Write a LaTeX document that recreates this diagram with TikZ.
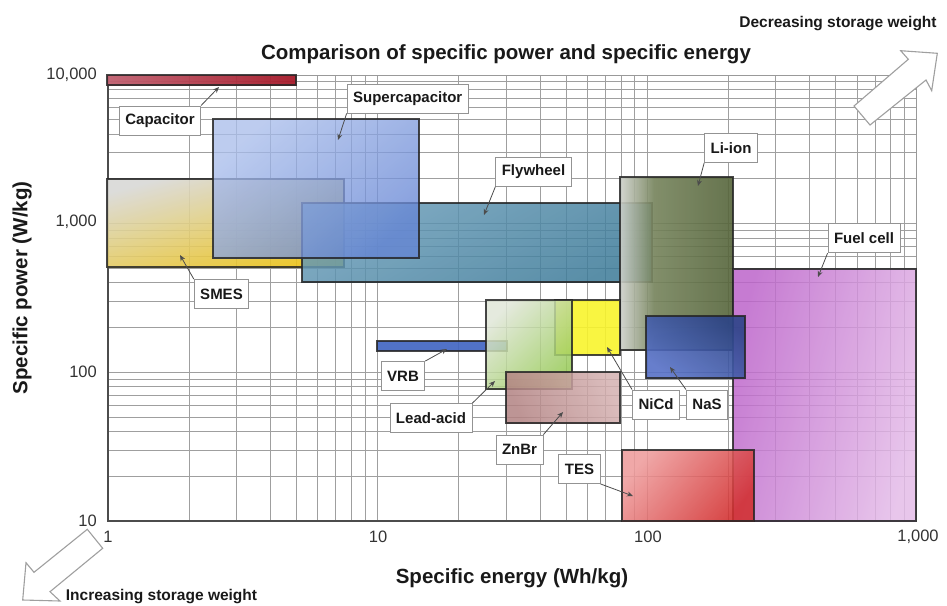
\documentclass[tikz,border=0pt]{standalone}
\usepackage{fontspec}
\setmainfont{Liberation Sans}
\usetikzlibrary{arrows.meta}
\definecolor{capL}{HTML}{C06070}
\definecolor{capR}{HTML}{A61828}
\definecolor{supL}{HTML}{AABEEB}
\definecolor{supR}{HTML}{6585D4}
\definecolor{smesL}{HTML}{D8D8D6}
\definecolor{smesM}{HTML}{EED868}
\definecolor{smesR}{HTML}{EBC218}
\definecolor{flyL}{HTML}{6A9CB8}
\definecolor{flyR}{HTML}{3C7A98}
\definecolor{liL}{HTML}{CDD0CA}
\definecolor{liM}{HTML}{74825A}
\definecolor{liR}{HTML}{55643A}
\definecolor{fuelL}{HTML}{BC64CA}
\definecolor{fuelR}{HTML}{E4BCE8}
\definecolor{tesL}{HTML}{EE9C9C}
\definecolor{tesR}{HTML}{D22E2E}
\definecolor{vrbC}{HTML}{4266C2}
\definecolor{nicdC}{HTML}{F8F42C}
\definecolor{leadL}{HTML}{E0E6D8}
\definecolor{leadR}{HTML}{98CA58}
\definecolor{znL}{HTML}{B28282}
\definecolor{znR}{HTML}{D4B0B0}
\definecolor{nasL}{HTML}{5670C6}
\definecolor{nasR}{HTML}{2C4488}
\pgfdeclarehorizontalshading{lishade}{100bp}{color(0bp)=(liL); color(25bp)=(liL); color(40bp)=(liM); color(75bp)=(liR); color(100bp)=(liR)}
\begin{document}
\begin{tikzpicture}[x=1pt,y=-1pt,
  gridline/.style={draw=gray!75, line width=0.8pt},
  box/.style={draw=black!85, line width=1.1pt, fill opacity=0.85, draw opacity=0.85},
  lab/.style={draw=gray!85, line width=0.9pt, fill=white, text=black!90,
    font=\fontsize{15}{18}\selectfont\bfseries, inner xsep=6pt, inner ysep=0pt, minimum height=29pt},
  pointer/.style={draw=black!70, line width=0.8pt, -{Stealth[length=6pt,width=5pt]}},
  tick/.style={font=\fontsize{16.5}{19}\selectfont, text=black!80, inner sep=0pt},
  axtitle/.style={font=\fontsize{20.5}{24}\selectfont\bfseries, text=black!90, inner sep=0pt},
  note/.style={font=\fontsize{15.5}{18}\selectfont\bfseries, text=black!90, inner sep=0pt},
  bigarrow/.style={draw=gray!75, line width=1.1pt, fill=white, line join=miter},
]
\useasboundingbox (0,0) rectangle (947,605);
% grid
\foreach \d in {0,1,2}{\foreach \m in {1,...,9}{
  \pgfmathsetmacro{\xx}{108+269.6*(\d+log10(\m))}
  \draw[gridline] (\xx,75) -- (\xx,521);
  \pgfmathsetmacro{\yy}{521-148.7*(\d+log10(\m))}
  \draw[gridline] (108,\yy) -- (916,\yy);
}}
\draw[gray!80, line width=1pt] (108,75) rectangle (916,521);
\draw[black!70, line width=1.3pt] (108,75) -- (108,521) -- (916,521);

% technology regions
\path[box, fill opacity=0.95, left color=capL, right color=capR] (107,75) rectangle (296,85);
\path[box, fill opacity=0.9, top color=smesL, middle color=smesM, bottom color=smesR, shading angle=15] (107,179) rectangle (344,267);
\path[box, top color=flyL, bottom color=flyR, shading angle=30] (302,203) rectangle (652,282);
\path[box, fill opacity=0.78, top color=supL, bottom color=supR, shading angle=40] (213,119) rectangle (419,258);
\path[box, fill opacity=0.9, shade, shading=lishade] (620,177) rectangle (733,350);
\path[box, left color=fuelL, right color=fuelR, shading angle=75] (733,269) rectangle (916,521);
\path[box, fill opacity=0.88, top color=tesL, bottom color=tesR, shading angle=50] (622,450) rectangle (754,521);
\path[box, fill opacity=0.92, fill=vrbC] (377,341) rectangle (507,351);
\path[box, fill opacity=0.9, fill=nicdC] (555,300) rectangle (620,355);
\path[box, top color=leadL, bottom color=leadR, shading angle=45] (486,300) rectangle (572,389);
\path[box, left color=znL, right color=znR, shading angle=110] (506,372) rectangle (620,423);
\path[box, fill opacity=0.9, top color=nasR, bottom color=nasL, shading angle=-35] (646,316) rectangle (745,378);

% labels
\node[lab] (cap)  at (160,120.5) {Capacitor};
\node[lab] (sup)  at (407.7,98.5) {Supercapacitor};
\node[lab] (smes) at (221.5,294) {SMES};
\node[lab] (fly)  at (533.5,171.7) {Flywheel};
\node[lab] (li)   at (731,148) {Li-ion};
\node[lab] (fuel) at (864,238.3) {Fuel cell};
\node[lab] (vrb)  at (403,376) {VRB};
\node[lab] (lead) at (431,418) {Lead-acid};
\node[lab] (znbr) at (519.5,449.5) {ZnBr};
\node[lab] (tes)  at (579.5,469) {TES};
\node[lab] (nicd) at (656,404.5) {NiCd};
\node[lab] (nas)  at (707,404.5) {NaS};

\coordinate (capT)  at (219,87);
\coordinate (supT)  at (338,140);
\coordinate (smesT) at (180,255);
\coordinate (flyT)  at (484,215);
\coordinate (liT)   at (698,186);
\coordinate (fuelT) at (818,277);
\coordinate (vrbT)  at (447,349);
\coordinate (leadT) at (495,381);
\coordinate (znbrT) at (563,412);
\coordinate (tesT)  at (633,496);
\coordinate (nicdT) at (607,347);
\coordinate (nasT)  at (670,367);

\draw[pointer] (cap.north east) -- (capT);
\draw[pointer] (sup.south west) -- (supT);
\draw[pointer] (smes.north west) -- (smesT);
\draw[pointer] (fly.south west) -- (flyT);
\draw[pointer] (li.south west) -- (liT);
\draw[pointer] (fuel.south west) -- (fuelT);
\draw[pointer] (vrb.north east) -- (vrbT);
\draw[pointer] (lead.north east) -- (leadT);
\draw[pointer] (znbr.north east) -- (znbrT);
\draw[pointer] (tes.south east) -- (tesT);
\draw[pointer] (nicd.north west) -- (nicdT);
\draw[pointer] (nas.north west) -- (nasT);

% tick labels
\node[tick, anchor=east] (y4) at (97,75) {10,000};
\node[tick, anchor=east] (y3) at (97,222) {1,000};
\node[tick, anchor=east] (y2) at (97,372) {100};
\node[tick, anchor=east] (y1) at (97,521) {10};
\node[tick] (x0) at (108,537) {1};
\node[tick] (x1) at (378,537) {10};
\node[tick] (x2) at (648,537) {100};
\node[tick] (x3) at (918,537) {1,000};

% titles
\node[axtitle] (title) at (506,54) {Comparison of specific power and specific energy};
\node[axtitle] (xlab) at (512,578) {Specific energy (Wh/kg)};
\node[axtitle, rotate=90] (ylab) at (22,288) {Specific power (W/kg)};

% weight arrows
\draw[bigarrow] (937.3,53.3) -- (900.7,50.7) -- (908.3,59.3) -- (854,106) -- (870,125) -- (926,80) -- (931.7,90.7) -- cycle;
\draw[bigarrow, fill=none] (22.7,600) -- (26,562.7) -- (34,572.3) -- (87.3,529.3) -- (102.7,548.3) -- (50,591.7) -- (60,601) -- cycle;
\node[note] (dec) at (838,24) {Decreasing storage weight};
\node[note] (inc) at (161.5,597) {Increasing storage weight};
\end{tikzpicture}
\end{document}
